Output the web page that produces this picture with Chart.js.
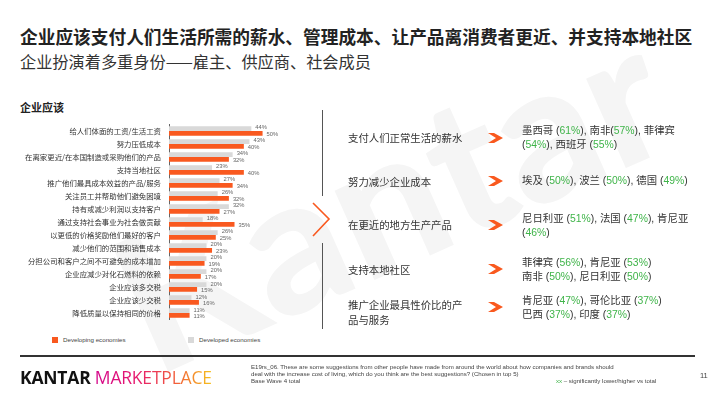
<!DOCTYPE html>
<html>
<head>
<meta charset="utf-8">
<script src="https://cdn.jsdelivr.net/npm/chart.js@4.4.1/dist/chart.umd.min.js"></script>
<style>
  html, body { margin: 0; padding: 0; background: #fff; }
  #page { position: relative; width: 710px; height: 399px; overflow: hidden; background: #fff;
          font-family: "Noto Sans CJK SC", "Liberation Sans", sans-serif; color: #333; }
  .abs { position: absolute; white-space: nowrap; }
  #wm { position: absolute; left: 125px; top: 215px; font-family: Lato, sans-serif; font-weight: 900;
        font-size: 190px; color: #f5f5f5; transform: rotate(-24deg); transform-origin: 0 50%; line-height: 1; }
  .item { position: absolute; left: 348px; font-size: 10.4px; line-height: 13px; color: #333; }
  .res { position: absolute; left: 522px; font-size: 10.4px; line-height: 13.5px; color: #333;
         font-family: "Liberation Sans", "Noto Sans CJK SC", sans-serif; }
  .res .g { color: #3fb449; }
  .arrow { position: absolute; left: 488px; width: 15px; height: 10px; }
  .foot { position: absolute; left: 251px; font-family: "Liberation Sans", sans-serif; font-size: 6.1px; line-height: 6.9px; color: #444; }
</style>
</head>
<body>
<div id="page">
  <div id="wm">Kantar</div>

  <div class="abs" style="left:20px;top:26px;font-size:17.7px;font-weight:bold;line-height:21px;color:#222;">企业应该支付人们生活所需的薪水、管理成本、让产品离消费者更近、并支持本地社区</div>
  <div class="abs" style="left:20px;top:52px;font-size:16.2px;line-height:19px;color:#333;">企业扮演着多重身份——雇主、供应商、社会成员</div>
  <div class="abs" style="left:20px;top:100px;font-size:11px;font-weight:bold;line-height:14px;color:#222;">企业应该</div>

  <div style="position:absolute;left:0;top:112px;width:300px;height:220px;">
    <canvas id="c" width="300" height="220"></canvas>
  </div>

  <!-- legend -->
  <div class="abs" style="left:52px;top:337px;width:6px;height:6px;background:#f9591f;"></div>
  <div class="abs" style="left:63px;top:335px;font-family:'Liberation Sans',sans-serif;font-size:6.2px;line-height:10px;color:#444;">Developing economies</div>
  <div class="abs" style="left:188px;top:337px;width:6px;height:6px;background:#d9d9d9;"></div>
  <div class="abs" style="left:199px;top:335px;font-family:'Liberation Sans',sans-serif;font-size:6.2px;line-height:10px;color:#444;">Developed economies</div>

  <!-- right panel lines & chevron -->
  <svg class="abs" style="left:0;top:0;" width="710" height="399">
    <line x1="322.5" y1="110" x2="322.5" y2="196" stroke="#555" stroke-width="1"/>
    <polyline points="313,203 329,219 313,236" fill="none" stroke="#f9591f" stroke-width="1.6"/>
    <line x1="322.5" y1="243" x2="322.5" y2="329" stroke="#555" stroke-width="1"/>
    <line x1="20" y1="356" x2="695" y2="356" stroke="#333" stroke-width="2.2"/>
  </svg>

  <div class="item" style="top:131px;">支付人们正常生活的薪水</div>
  <div class="item" style="top:175px;">努力减少企业成本</div>
  <div class="item" style="top:218px;">在更近的地方生产产品</div>
  <div class="item" style="top:263px;">支持本地社区</div>
  <div class="item" style="top:297px;line-height:15px;">推广企业最具性价比的产<br>品与服务</div>

  <div class="res" style="top:124px;">墨西哥 (<span class="g">61%</span>), 南非(<span class="g">57%</span>), 菲律宾<br>(<span class="g">54%</span>), 西班牙 (<span class="g">55%</span>)</div>
  <div class="res" style="top:174px;">埃及 (<span class="g">50%</span>), 波兰 (<span class="g">50%</span>), 德国 (<span class="g">49%</span>)</div>
  <div class="res" style="top:212px;">尼日利亚 (<span class="g">51%</span>), 法国 (<span class="g">47%</span>), 肯尼亚<br>(<span class="g">46%</span>)</div>
  <div class="res" style="top:256px;">菲律宾 (<span class="g">56%</span>), 肯尼亚 (<span class="g">53%</span>)<br>南非 (<span class="g">50%</span>), 尼日利亚 (<span class="g">50%</span>)</div>
  <div class="res" style="top:294px;">肯尼亚 (<span class="g">47%</span>), 哥伦比亚 (<span class="g">37%</span>)<br>巴西 (<span class="g">37%</span>), 印度 (<span class="g">37%</span>)</div>

  <svg class="arrow" style="top:133px;" viewBox="0 0 15 10"><polygon points="0,0 6,0 15,5 6,10 0,10 8,5" fill="#f9591f"/></svg>
  <svg class="arrow" style="top:176px;" viewBox="0 0 15 10"><polygon points="0,0 6,0 15,5 6,10 0,10 8,5" fill="#f9591f"/></svg>
  <svg class="arrow" style="top:220px;" viewBox="0 0 15 10"><polygon points="0,0 6,0 15,5 6,10 0,10 8,5" fill="#f9591f"/></svg>
  <svg class="arrow" style="top:264px;" viewBox="0 0 15 10"><polygon points="0,0 6,0 15,5 6,10 0,10 8,5" fill="#f9591f"/></svg>
  <svg class="arrow" style="top:302px;" viewBox="0 0 15 10"><polygon points="0,0 6,0 15,5 6,10 0,10 8,5" fill="#f9591f"/></svg>

  <!-- footer -->
  <div class="abs" style="left:20px;top:367px;font-family:'Open Sans',sans-serif;font-size:17.5px;line-height:20px;letter-spacing:-0.2px;">
    <span style="font-weight:700;color:#111;">KANTAR</span>
    <span style="font-weight:400;background:linear-gradient(90deg,#d4058a 0%,#e6196e 35%,#f2613a 70%,#f6c21c 100%);-webkit-background-clip:text;background-clip:text;color:transparent;">MARKETPLACE</span>
  </div>
  <div class="foot" style="top:364px;">E19rs_06. These are some suggestions from other people have made from around the world about how companies and brands should<br>deal with the increase cost of living, which do you think are the best suggestions? (Chosen in top 5)<br>Base Wave 4 total</div>
  <div class="foot" style="left:556px;top:378px;"><span style="color:#3fb449;">xx</span> – significantly lower/higher vs total</div>
  <div class="abs" style="left:700px;top:371px;font-family:'Liberation Sans',sans-serif;font-size:7.5px;line-height:10px;color:#444;">11</div>
</div>

<script>
const categories = [
  "给人们体面的工资/生活工资",
  "努力压低成本",
  "在离家更近/在本国制造或采购他们的产品",
  "支持当地社区",
  "推广他们最具成本效益的产品/服务",
  "关注员工并帮助他们避免困境",
  "持有或减少利润以支持客户",
  "通过支持社会事业为社会做贡献",
  "以更低的价格奖励他们最好的客户",
  "减少他们的范围和销售成本",
  "分担公司和客户之间不可避免的成本增加",
  "企业应减少对化石燃料的依赖",
  "企业应该多交税",
  "企业应该少交税",
  "降低质量以保持相同的价格"
];
const developed  = [44, 43, 34, 23, 27, 26, 32, 18, 26, 20, 20, 20, 20, 12, 11];
const developing = [50, 40, 32, 40, 34, 32, 27, 35, 25, 23, 19, 17, 15, 16, 11];

const labelPlugin = {
  id: 'valueLabels',
  afterDatasetsDraw(chart) {
    const ctx = chart.ctx;
    ctx.save();
    ctx.font = '5.8px "Liberation Sans", sans-serif';
    ctx.fillStyle = '#666';
    ctx.textBaseline = 'middle';
    chart.data.datasets.forEach((ds, di) => {
      const meta = chart.getDatasetMeta(di);
      meta.data.forEach((bar, i) => {
        const dy = di === 0 ? -0.8 : 1.2;
        ctx.fillText(ds.data[i] + '%', bar.x + 4, bar.y + dy);
      });
    });
    ctx.restore();
  }
};

new Chart(document.getElementById('c'), {
  type: 'bar',
  data: {
    labels: categories,
    datasets: [
      { label: 'Developed economies', data: developed, backgroundColor: '#d9d9d9',
        categoryPercentage: 0.72, barPercentage: 1.0 },
      { label: 'Developing economies', data: developing, backgroundColor: '#f9591f',
        categoryPercentage: 0.72, barPercentage: 1.0 }
    ]
  },
  options: {
    indexAxis: 'y',
    responsive: false,
    animation: false,
    layout: { padding: { top: 7, bottom: 8, left: 0, right: 0 } },
    plugins: { legend: { display: false }, tooltip: { enabled: false } },
    scales: {
      x: { min: 0, max: 70, display: false, grid: { display: false } },
      y: {
        grid: { display: false, drawTicks: false },
        border: { display: true, color: '#666', width: 1 },
        ticks: { color: '#333', padding: 8, font: { family: '"Noto Sans CJK SC"', size: 7.4 } },
        afterFit(scale) { scale.width = 169; }
      }
    }
  },
  plugins: [labelPlugin]
});
</script>
</body>
</html>
